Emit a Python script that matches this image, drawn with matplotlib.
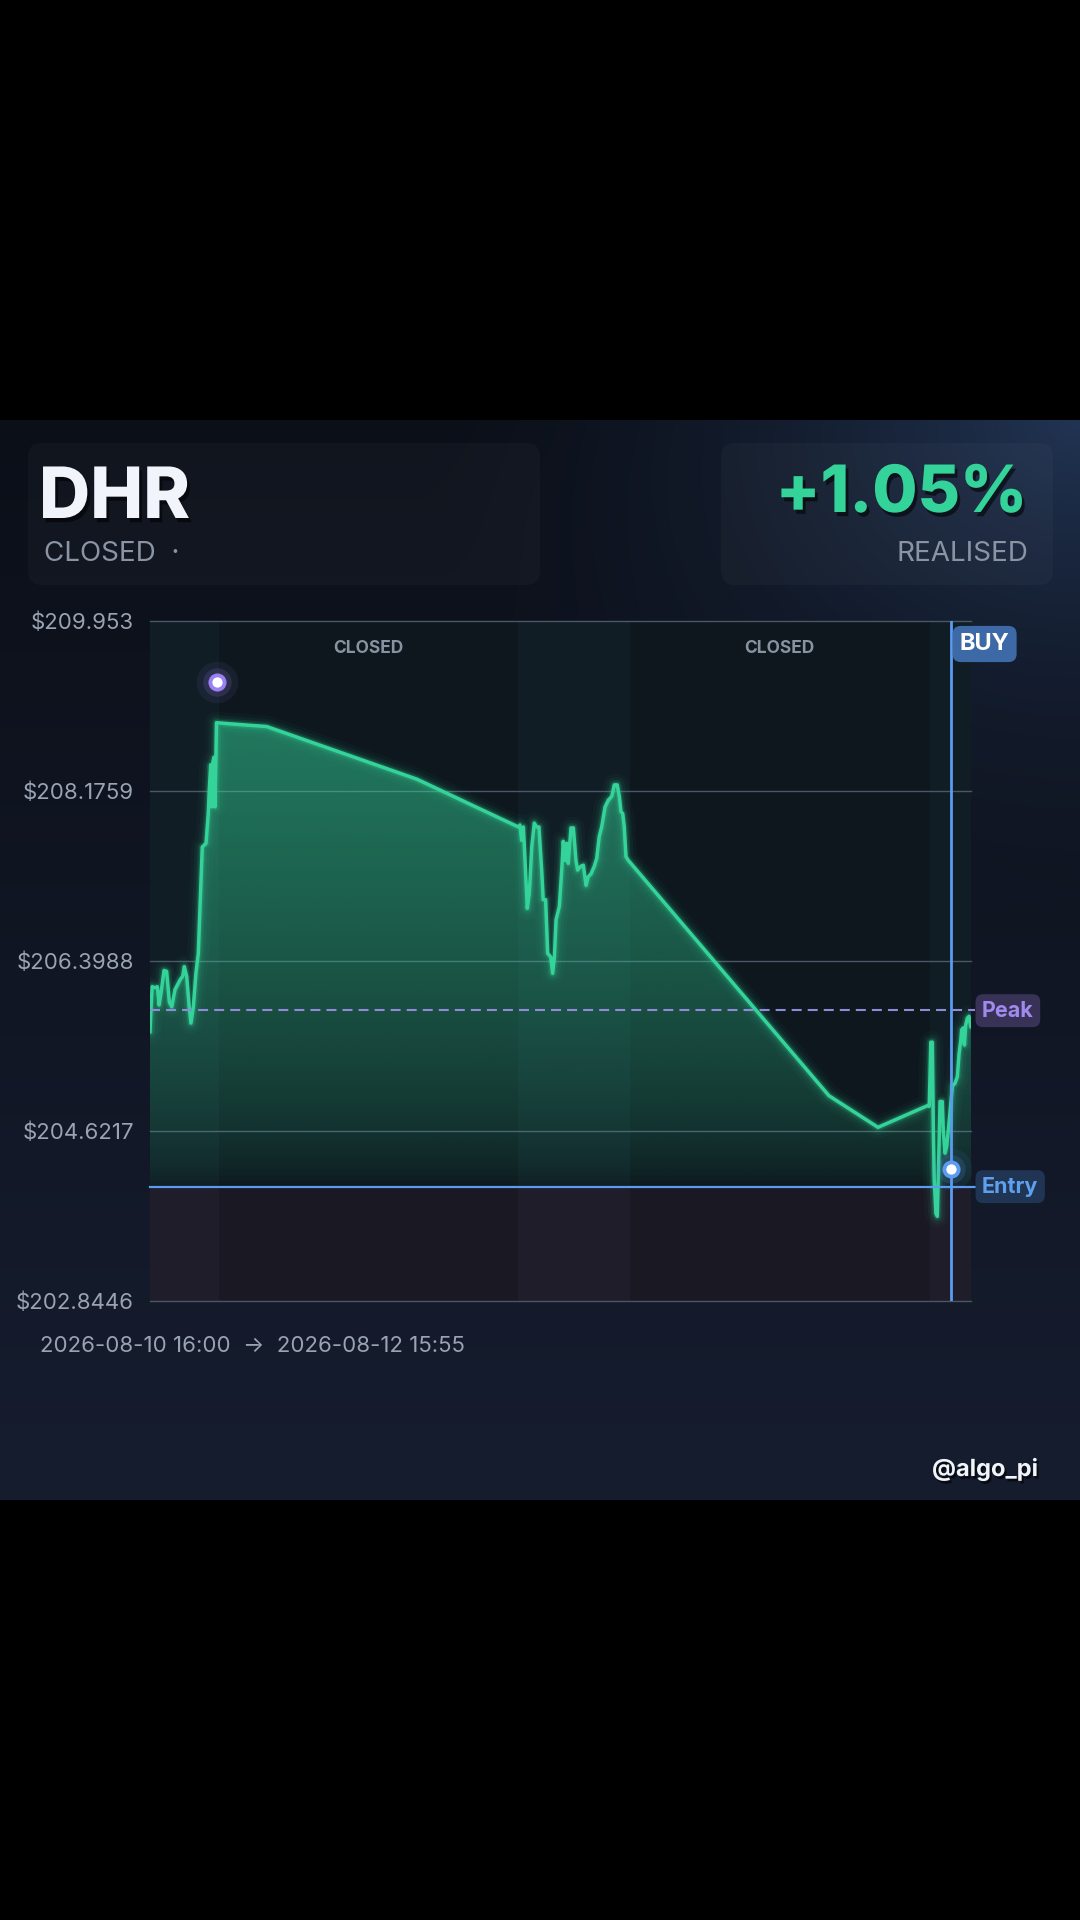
import numpy as np
import matplotlib.pyplot as plt
import matplotlib.patheffects as pe
from matplotlib.patches import FancyBboxPatch
from matplotlib.colors import to_rgb

plt.rcParams['font.family'] = ['Inter', 'DejaVu Sans']

# ---------------------------------------------------------
# Data (hours since 2026-08-10 16:00)
# ---------------------------------------------------------
ticker = "DHR"
status = "CLOSED"
pnl_text = "+1.05%"
pnl_label = "REALISED"
handle = "@algo_pi"
start_label = "2026-08-10 16:00"
end_label = "2026-08-12 15:55"

hours = [
    0.00, 0.06, 0.13, 0.29, 0.43, 0.53, 0.64, 0.82, 0.97, 1.13, 1.27, 1.46,
    1.75, 1.91, 2.00, 2.14, 2.29, 2.39, 2.53, 2.68, 2.82, 2.92, 3.05, 3.27,
    3.40, 3.46, 3.54, 3.60, 3.66, 3.74, 3.79, 3.85, 3.88, 4.57, 6.03, 6.81,
    15.57,
    21.50, 21.59, 21.69, 21.79, 21.89, 22.02, 22.14, 22.28, 22.43, 22.57,
    22.70, 22.86, 22.95, 23.09, 23.21, 23.39, 23.50, 23.60, 23.70, 23.89,
    24.03, 24.12, 24.22, 24.32, 24.41, 24.57, 24.71, 24.86, 24.96, 25.15,
    25.29, 25.45, 25.58, 25.74, 25.93, 26.07, 26.22, 26.36, 26.56, 26.75,
    26.95, 27.10, 27.27, 27.39, 27.49, 27.59, 27.68, 27.78, 27.92,
    39.63, 42.49, 45.42,
    45.48, 45.57, 45.66, 45.72, 45.77, 45.87, 45.95, 46.05, 46.11, 46.24,
    46.30, 46.40, 46.50, 46.59, 46.69, 46.83, 46.98, 47.12, 47.22, 47.32,
    47.37, 47.47, 47.53, 47.61, 47.70, 47.80, 47.90, 47.9167,
]
prices = [
    205.66, 205.91, 206.13, 206.12, 206.13, 205.94, 206.06, 206.30, 206.29, 205.97, 205.92, 206.10,
    206.20, 206.24, 206.34, 206.24, 205.92, 205.75, 205.92, 206.27, 206.48, 206.97, 207.59, 207.63,
    207.94, 208.19, 208.45, 208.01, 208.47, 208.53, 208.01, 208.57, 208.89, 208.88, 208.86, 208.85,
    208.30,
    207.80, 207.82, 207.66, 207.80, 207.45, 206.95, 207.11, 207.59, 207.84, 207.80,
    207.80, 207.35, 207.04, 207.04, 206.48, 206.44, 206.27, 206.44, 206.83, 206.97,
    207.35, 207.65, 207.45, 207.63, 207.42, 207.79, 207.79, 207.45, 207.35, 207.39,
    207.40, 207.19, 207.28, 207.31, 207.39, 207.47, 207.70, 207.80, 208.01, 208.08,
    208.12, 208.24, 208.24, 208.12, 207.96, 207.94, 207.80, 207.49, 207.45,
    204.99, 204.66, 204.89,
    204.88, 205.55, 205.55, 204.63, 204.11, 203.76, 203.73, 204.46, 204.93, 204.93,
    204.63, 204.39, 204.46, 204.63, 204.81, 205.09, 205.12, 205.19, 205.43, 205.57,
    205.68, 205.70, 205.52, 205.73, 205.80, 205.82, 205.71, 205.75,
]

# (start, end, market open?)
sessions = [(0.0, 4.0, True), (4.0, 21.5, False), (21.5, 28.0, True),
            (28.0, 45.5, False), (45.5, 47.9167, True)]

y_ticks = [202.8446, 204.6217, 206.3988, 208.1759, 209.953]
y_labels = ["$202.8446", "$204.6217", "$206.3988", "$208.1759", "$209.953"]

entry_price = 204.04
peak_price = 205.89
buy_hour = 46.73
entry_point = (46.73, 204.22)
peak_point = (3.93, 209.32)

GREEN = '#34d399'
BLUE = '#5b9bf0'
PURPLE = '#9b80f2'
GREY = '#8b94a5'

# ---------------------------------------------------------
# Figure + card background
# ---------------------------------------------------------
fig = plt.figure(figsize=(10.8, 19.2), dpi=100, facecolor='black')

bg = fig.add_axes([0, 420 / 1920, 1, 1080 / 1920])
bg.set_xlim(0, 1080)
bg.set_ylim(1500, 420)
bg.axis('off')

yy, xx = np.mgrid[0:1080, 0:1080] / 1080.0
top_c = np.array(to_rgb('#0b0f18'))
bot_c = np.array(to_rgb('#161d2f'))
img = top_c + (bot_c - top_c) * yy[..., None]
d = np.sqrt(((1 - xx) / 1.0) ** 2 + (yy / 0.75) ** 2)
glow = np.clip(1 - d / 0.62, 0, 1) ** 1.6
glow_c = np.array(to_rgb('#213453'))
img = img * (1 - glow[..., None]) + glow_c * glow[..., None]
bg.imshow(img, extent=[0, 1080, 1500, 420], origin='upper', aspect='auto', zorder=0)

for x0, w in [(28, 512), (721, 332)]:
    bg.add_patch(FancyBboxPatch((x0, 443), w, 142,
                                boxstyle='round,pad=0,rounding_size=14',
                                fc='white', alpha=0.028, ec='none', zorder=1))

shadow = [pe.SimplePatchShadow(offset=(2, -3), shadow_rgbFace='black', alpha=0.55), pe.Normal()]

bg.text(39, 518, ticker, fontsize=51, fontweight=800, color='#f1f4fa',
        va='baseline', ha='left', zorder=3, path_effects=shadow)
bg.text(44, 561, status + "  \u00b7", fontsize=20, color=GREY,
        va='baseline', ha='left', zorder=3)
bg.text(1027, 512, pnl_text, fontsize=47, fontweight=800, color=GREEN,
        va='baseline', ha='right', zorder=3, path_effects=shadow)
bg.text(1028, 561, pnl_label, fontsize=20, color=GREY,
        va='baseline', ha='right', zorder=3)
bg.text(40, 1352, start_label + "  \u2192  " + end_label, fontsize=16, color='#9aa3b4',
        va='baseline', ha='left', zorder=3)
bg.text(1038, 1476, handle, fontsize=17, fontweight='bold', color='#f1f4fa',
        va='baseline', ha='right', zorder=3,
        path_effects=[pe.SimplePatchShadow(offset=(1.5, -2), shadow_rgbFace='black', alpha=0.6), pe.Normal()])

# ---------------------------------------------------------
# Price chart
# ---------------------------------------------------------
ax = fig.add_axes([150 / 1080, (1920 - 1301) / 1920, 821 / 1080, 680 / 1920])
ax.set_facecolor('none')
for s in ax.spines.values():
    s.set_visible(False)

x_lo, x_hi = hours[0], hours[-1]
y_lo, y_hi = y_ticks[0], y_ticks[-1]

# session bands, split at entry price
for s0, s1, is_open in sessions:
    up_c = '#101d24' if is_open else '#0d171d'
    dn_c = '#1f1d2a' if is_open else '#1a1923'
    ax.fill_between([s0, s1], entry_price, y_hi, color=up_c, lw=0, zorder=0)
    ax.fill_between([s0, s1], y_lo, entry_price, color=dn_c, lw=0, zorder=0)
    if not is_open:
        ax.text((s0 + s1) / 2, 0.959, "CLOSED", transform=ax.get_xaxis_transform(),
                ha='center', va='center', fontsize=12.5, fontweight='bold',
                color='#8793a0', zorder=6)

for t in y_ticks:
    ax.axhline(t, color='#4b5667', lw=1.0, clip_on=False, zorder=1)

# gradient fill between the line and the entry level
poly = ax.fill_between(hours, prices, entry_price, color='none', lw=0)
top_fill = max(prices)
n = 256
levels = np.linspace(entry_price, y_hi, n)
frac = np.clip((levels - entry_price) / (top_fill - entry_price), 0, 1)
grad = np.zeros((n, 1, 4))
grad[..., :3] = to_rgb(GREEN)
grad[:, 0, 3] = 0.52 * frac ** 0.6
im = ax.imshow(grad, extent=[x_lo, x_hi, entry_price, y_hi], origin='lower',
               aspect='auto', zorder=2)
im.set_clip_path(poly.get_paths()[0], transform=ax.transData)

# glowing price line
for lw, a in [(16, 0.035), (11, 0.06), (7, 0.11), (4.5, 0.2)]:
    ax.plot(hours, prices, color=GREEN, lw=lw, alpha=a, solid_joinstyle='round',
            solid_capstyle='round', zorder=3)
ax.plot(hours, prices, color=GREEN, lw=2.5, solid_joinstyle='round', zorder=4)

# reference lines
ax.axhline(peak_price, xmax=1.005, color='#8f8bd9', lw=1.5,
           linestyle=(0, (4.8, 2.9)), clip_on=False, zorder=5)
ax.axhline(entry_price, xmax=1.005, color=BLUE, lw=1.6, clip_on=False, zorder=5)
ax.axvline(buy_hour, color=BLUE, lw=2.0, zorder=5)

# markers
for (mx, my), ring in [(peak_point, PURPLE), (entry_point, BLUE)]:
    ax.scatter([mx], [my], s=900, color=ring, alpha=0.08, lw=0, zorder=6)
    ax.scatter([mx], [my], s=420, color=ring, alpha=0.16, lw=0, zorder=6)
    ax.scatter([mx], [my], s=170, color=ring, lw=0, zorder=7)
    ax.scatter([mx], [my], s=55, color='white', lw=0, zorder=8)

# badges
ax.annotate("BUY", xy=(buy_hour, 1), xycoords=ax.get_xaxis_transform(),
            xytext=(9, -12), textcoords='offset pixels', ha='left', va='top',
            fontsize=17, fontweight='bold', color='white', zorder=9, annotation_clip=False,
            bbox=dict(boxstyle='round,pad=0.3,rounding_size=0.35', fc='#3d6aa6', ec='none'))
ax.annotate("Peak", xy=(1, peak_price), xycoords=ax.get_yaxis_transform(),
            xytext=(11, -1), textcoords='offset pixels', ha='left', va='center',
            fontsize=15.5, fontweight='bold', color='#a08aee', zorder=9, annotation_clip=False,
            bbox=dict(boxstyle='round,pad=0.3,rounding_size=0.35', fc='#393257', ec='none'))
ax.annotate("Entry", xy=(1, entry_price), xycoords=ax.get_yaxis_transform(),
            xytext=(11, 0), textcoords='offset pixels', ha='left', va='center',
            fontsize=15.5, fontweight='bold', color='#5fa0ee', zorder=9, annotation_clip=False,
            bbox=dict(boxstyle='round,pad=0.3,rounding_size=0.35', fc='#1f3553', ec='none'))

ax.set_xlim(x_lo, x_hi)
ax.set_ylim(y_lo, y_hi)
ax.set_xticks([])
ax.set_yticks(y_ticks, y_labels)
ax.tick_params(axis='y', length=0, pad=11.5, labelsize=16, labelcolor='#9aa3b2')

fig.savefig("out.png", dpi=100, facecolor='black')
